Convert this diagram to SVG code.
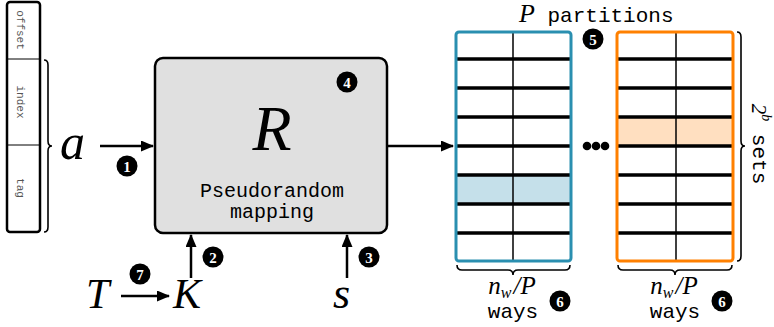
<svg xmlns="http://www.w3.org/2000/svg" width="774" height="327" viewBox="0 0 774 327">
<defs>
<marker id="ah" viewBox="0 0 13 11" refX="12" refY="5.5" markerWidth="13" markerHeight="11" markerUnits="userSpaceOnUse" orient="auto">
<path d="M0,0 L13,5.5 L0,11 Z" fill="#000"/>
</marker>
</defs>
<style>
.math{font-family:"Liberation Serif","DejaVu Serif",serif;font-style:italic;fill:#000}
.mono{font-family:"Liberation Mono","DejaVu Sans Mono",monospace;fill:#000}
.addr{font-family:"Liberation Mono","DejaVu Sans Mono",monospace;font-size:11px;fill:#555}
.badge circle{fill:#000}
.badge text{font-family:"Liberation Serif","DejaVu Serif",serif;font-weight:bold;font-size:15px;fill:#fff;text-anchor:middle}
.conn{stroke:#000;stroke-width:2.5;fill:none;marker-end:url(#ah)}
.brace{stroke:#000;stroke-width:1.6;fill:none}
.row{stroke:#000;stroke-width:3.5}
.vdiv{stroke:#000;stroke-width:1.5}
</style>

<g id="address">
<rect x="7" y="2" width="33" height="230" rx="3" fill="#fff" stroke="#000" stroke-width="2.5"/>
<line x1="7" y1="59" x2="40" y2="59" stroke="#000" stroke-width="1"/>
<line x1="7" y1="145" x2="40" y2="145" stroke="#000" stroke-width="1"/>
<text class="addr" transform="translate(20,30) rotate(90)" text-anchor="middle" dominant-baseline="central">offset</text>
<text class="addr" transform="translate(20,102) rotate(90)" text-anchor="middle" dominant-baseline="central">index</text>
<text class="addr" transform="translate(20,188) rotate(90)" text-anchor="middle" dominant-baseline="central">tag</text>
<path class="brace" d="M44,60 q4,0 4,5 L48,141 q0,5 4,5 q-4,0 -4,5 L48,227 q0,5 -4,5"/>
</g>

<g id="a-label"><text class="math" x="60" y="159" font-size="50">a</text></g>

<g id="mapping">
<rect x="155" y="58" width="232" height="175" rx="8" fill="#e0e0e0" stroke="#000" stroke-width="2.5"/>
<text class="math" x="272" y="150" font-size="64" text-anchor="middle">R</text>
<text class="mono" x="272" y="197" font-size="20" text-anchor="middle">Pseudorandom</text>
<text class="mono" x="272" y="218" font-size="20" text-anchor="middle">mapping</text>
</g>

<g id="T-label"><text class="math" x="86" y="308" font-size="42">T</text></g>
<g id="K-label"><text class="math" x="173" y="308" font-size="42">K</text></g>
<g id="s-label"><text class="math" x="333" y="308" font-size="44">s</text></g>

<g id="partition-blue">
<rect x="457" y="175" width="113" height="29" fill="#c5e0ea"/>
<line class="row" x1="457" y1="59" x2="570" y2="59"/>
<line class="row" x1="457" y1="88" x2="570" y2="88"/>
<line class="row" x1="457" y1="117" x2="570" y2="117"/>
<line class="row" x1="457" y1="146" x2="570" y2="146"/>
<line class="row" x1="457" y1="175" x2="570" y2="175"/>
<line class="row" x1="457" y1="204" x2="570" y2="204"/>
<line class="row" x1="457" y1="233" x2="570" y2="233"/>
<line class="vdiv" x1="513" y1="32" x2="513" y2="261"/>
<rect x="456" y="32" width="115" height="229" rx="3" fill="none" stroke="#2a8fb0" stroke-width="3"/>
</g>

<g id="partition-orange">
<rect x="618" y="117" width="114" height="29" fill="#ffdfc0"/>
<line class="row" x1="618" y1="59" x2="732" y2="59"/>
<line class="row" x1="618" y1="88" x2="732" y2="88"/>
<line class="row" x1="618" y1="117" x2="732" y2="117"/>
<line class="row" x1="618" y1="146" x2="732" y2="146"/>
<line class="row" x1="618" y1="175" x2="732" y2="175"/>
<line class="row" x1="618" y1="204" x2="732" y2="204"/>
<line class="row" x1="618" y1="233" x2="732" y2="233"/>
<line class="vdiv" x1="676" y1="32" x2="676" y2="261"/>
<rect x="617" y="32" width="116" height="229" rx="3" fill="none" stroke="#ff8000" stroke-width="3"/>
</g>

<g id="ellipsis">
<circle cx="587" cy="146" r="4.3"/>
<circle cx="596" cy="146" r="4.3"/>
<circle cx="605" cy="146" r="4.3"/>
</g>

<g id="partitions-label">
<text x="519" y="22"><tspan class="math" font-size="26">P</tspan><tspan class="mono" font-size="21"> partitions</tspan></text>
</g>

<g id="sets-label">
<path class="brace" d="M737,32 q4,0 4,5 L741,141 q0,5 4,5 q-4,0 -4,5 L741,256 q0,5 -4,5"/>
<text transform="translate(759,144) rotate(90)" text-anchor="middle" dominant-baseline="central"><tspan class="math" font-style="normal" font-size="21">2</tspan><tspan class="math" font-size="14" dy="-8">b</tspan><tspan class="mono" font-size="21" dy="8"> sets</tspan></text>
</g>

<g id="ways-blue">
<path class="brace" d="M457,265 q0,5 5,5 L508,270 q5,0 5,5 q0,-5 5,-5 L565,270 q5,0 5,-5"/>
<text x="512" y="294" text-anchor="middle"><tspan class="math" font-size="25">n</tspan><tspan class="math" font-size="16" dy="4">w</tspan><tspan class="math" font-style="normal" font-size="25" dx="2" dy="-4">/</tspan><tspan class="math" font-size="25">P</tspan></text>
<text class="mono" x="513" y="318" font-size="21" text-anchor="middle">ways</text>
</g>

<g id="ways-orange">
<path class="brace" d="M618,265 q0,5 5,5 L670,270 q5,0 5,5 q0,-5 5,-5 L727,270 q5,0 5,-5"/>
<text x="674" y="294" text-anchor="middle"><tspan class="math" font-size="25">n</tspan><tspan class="math" font-size="16" dy="4">w</tspan><tspan class="math" font-style="normal" font-size="25" dx="2" dy="-4">/</tspan><tspan class="math" font-size="25">P</tspan></text>
<text class="mono" x="675" y="318" font-size="21" text-anchor="middle">ways</text>
</g>

<g id="connectors">
<line class="conn" x1="100" y1="146" x2="153" y2="146"/>
<line class="conn" x1="387" y1="146" x2="453" y2="146"/>
<line class="conn" x1="191" y1="278" x2="191" y2="235"/>
<line class="conn" x1="347" y1="278" x2="347" y2="235"/>
<line class="conn" x1="121" y1="296" x2="169" y2="296"/>
</g>

<g id="badges">
<g class="badge"><circle cx="127" cy="166" r="10.5"/><text x="127" y="171.5">1</text></g>
<g class="badge"><circle cx="213" cy="257" r="10.5"/><text x="213" y="262.5">2</text></g>
<g class="badge"><circle cx="369" cy="257" r="10.5"/><text x="369" y="262.5">3</text></g>
<g class="badge"><circle cx="347" cy="82" r="10.5"/><text x="347" y="87.5">4</text></g>
<g class="badge"><circle cx="593" cy="39" r="10.5"/><text x="593" y="44.5">5</text></g>
<g class="badge"><circle cx="560" cy="301" r="10.5"/><text x="560" y="306.5">6</text></g>
<g class="badge"><circle cx="722" cy="301" r="10.5"/><text x="722" y="306.5">6</text></g>
<g class="badge"><circle cx="140" cy="274" r="10.5"/><text x="140" y="279.5">7</text></g>
</g>
</svg>
